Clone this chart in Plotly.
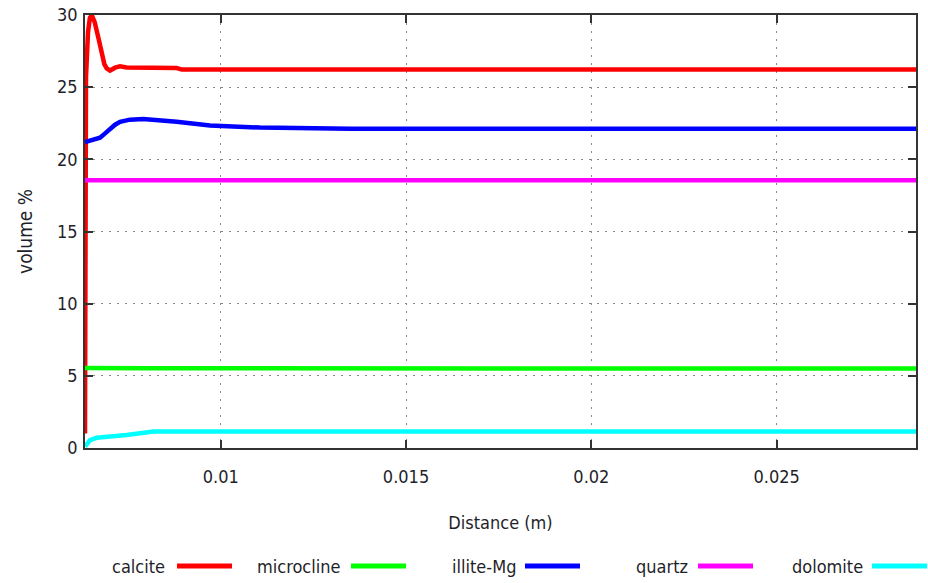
import plotly.graph_objects as go

# ---- data ----
calcite_x = [0.006338, 0.006365, 0.006419, 0.006470, 0.006519, 0.006600, 0.006700,
             0.006789, 0.006860, 0.006924, 0.007013, 0.007150, 0.007283, 0.007464,
             0.008813, 0.008948, 0.02876]
calcite_y = [1.0, 25.7, 28.8, 29.8, 30.0, 29.5, 28.4, 27.2, 26.6, 26.3, 26.15, 26.35,
             26.45, 26.37, 26.32, 26.22, 26.22]

microcline_x = [0.006338, 0.00800, 0.02876]
microcline_y = [5.55, 5.52, 5.5]

illite_x = [0.006338, 0.006600, 0.006743, 0.006880, 0.007013, 0.007150, 0.007283,
            0.007550, 0.007911, 0.008350, 0.008813, 0.009711, 0.01106, 0.01349, 0.02876]
illite_y = [21.2, 21.35, 21.5, 21.8, 22.1, 22.4, 22.6, 22.75, 22.8, 22.72, 22.6,
            22.35, 22.2, 22.12, 22.12]

quartz_x = [0.006338, 0.02876]
quartz_y = [18.55, 18.55]

dolomite_x = [0.006338, 0.006384, 0.006473, 0.006654, 0.007464, 0.008181, 0.02876]
dolomite_y = [0.1, 0.3, 0.55, 0.71, 0.9, 1.15, 1.15]

series_names = ["calcite", "microcline", "illite-Mg", "quartz", "dolomite"]
series_colors = ["#ff0000", "#00ff00", "#0000ff", "#ff00ff", "#00ffff"]
series_x = [calcite_x, microcline_x, illite_x, quartz_x, dolomite_x]
series_y = [calcite_y, microcline_y, illite_y, quartz_y, dolomite_y]

x_ticks = [0.01, 0.015, 0.02, 0.025]
x_tick_labels = ["0.01", "0.015", "0.02", "0.025"]
y_ticks = [0, 5, 10, 15, 20, 25, 30]

FONT = "DejaVu Sans Condensed, Tahoma, sans-serif"
TXT = "#1f1f2a"
FS = 18

fig = go.Figure()
for name, col, xs, ys in zip(series_names, series_colors, series_x, series_y):
    fig.add_trace(go.Scatter(x=xs, y=ys, mode="lines", name=name,
                             line=dict(color=col, width=4.5), showlegend=False))

# plot area in pixels: left 85, right 916, top 15, bottom 448
L, R, T, B = 85, 916, 15, 448
W, H = 928, 583
pw, ph = R - L, B - T

def px_to_paper_x(px):
    return (px - L) / pw

def px_to_paper_y(py):
    return (B - py) / ph

# custom legend: text then line sample
text_right = [167, 343, 518, 690, 865]
line_left = [177, 351, 525, 698, 872]
legend_py = 566
shapes = []
annotations = []
for name, col, tr, ll in zip(series_names, series_colors, text_right, line_left):
    annotations.append(dict(xref="paper", yref="paper", x=px_to_paper_x(tr), y=px_to_paper_y(legend_py),
                            text=name, showarrow=False, xanchor="right", yanchor="middle",
                            font=dict(family=FONT, size=FS, color=TXT)))
    shapes.append(dict(type="line", xref="paper", yref="paper",
                       x0=px_to_paper_x(ll), x1=px_to_paper_x(ll + 55),
                       y0=px_to_paper_y(legend_py), y1=px_to_paper_y(legend_py),
                       line=dict(color=col, width=5)))

axis_common = dict(showline=True, linecolor="#333", linewidth=1.5, mirror="allticks",
                   ticks="inside", ticklen=8, tickcolor="#333", tickwidth=1.5,
                   showgrid=True, gridcolor="#888", griddash="2px,6px", gridwidth=1.2,
                   zeroline=False, automargin=False,
                   tickfont=dict(family=FONT, size=FS, color=TXT))

fig.update_layout(
    template="none",
    width=W, height=H,
    margin=dict(l=L, r=W - R, t=T, b=H - B, autoexpand=False),
    plot_bgcolor="white", paper_bgcolor="white",
    xaxis=dict(range=[0.006338, 0.02876], tickvals=x_ticks, ticktext=x_tick_labels,
               ticklabelstandoff=12,
               title=dict(text="Distance (m)", font=dict(family=FONT, size=FS, color=TXT), standoff=30),
               **axis_common),
    yaxis=dict(range=[0, 30], tickvals=y_ticks, ticklabelstandoff=2,
               title=dict(text="volume %", font=dict(family=FONT, size=FS + 1, color=TXT), standoff=19),
               **axis_common),
    shapes=shapes,
    annotations=annotations,
)

fig.write_html("out.html", config={"displayModeBar": False},
               post_script="document.body.style.margin='0';document.body.style.padding='0';")
